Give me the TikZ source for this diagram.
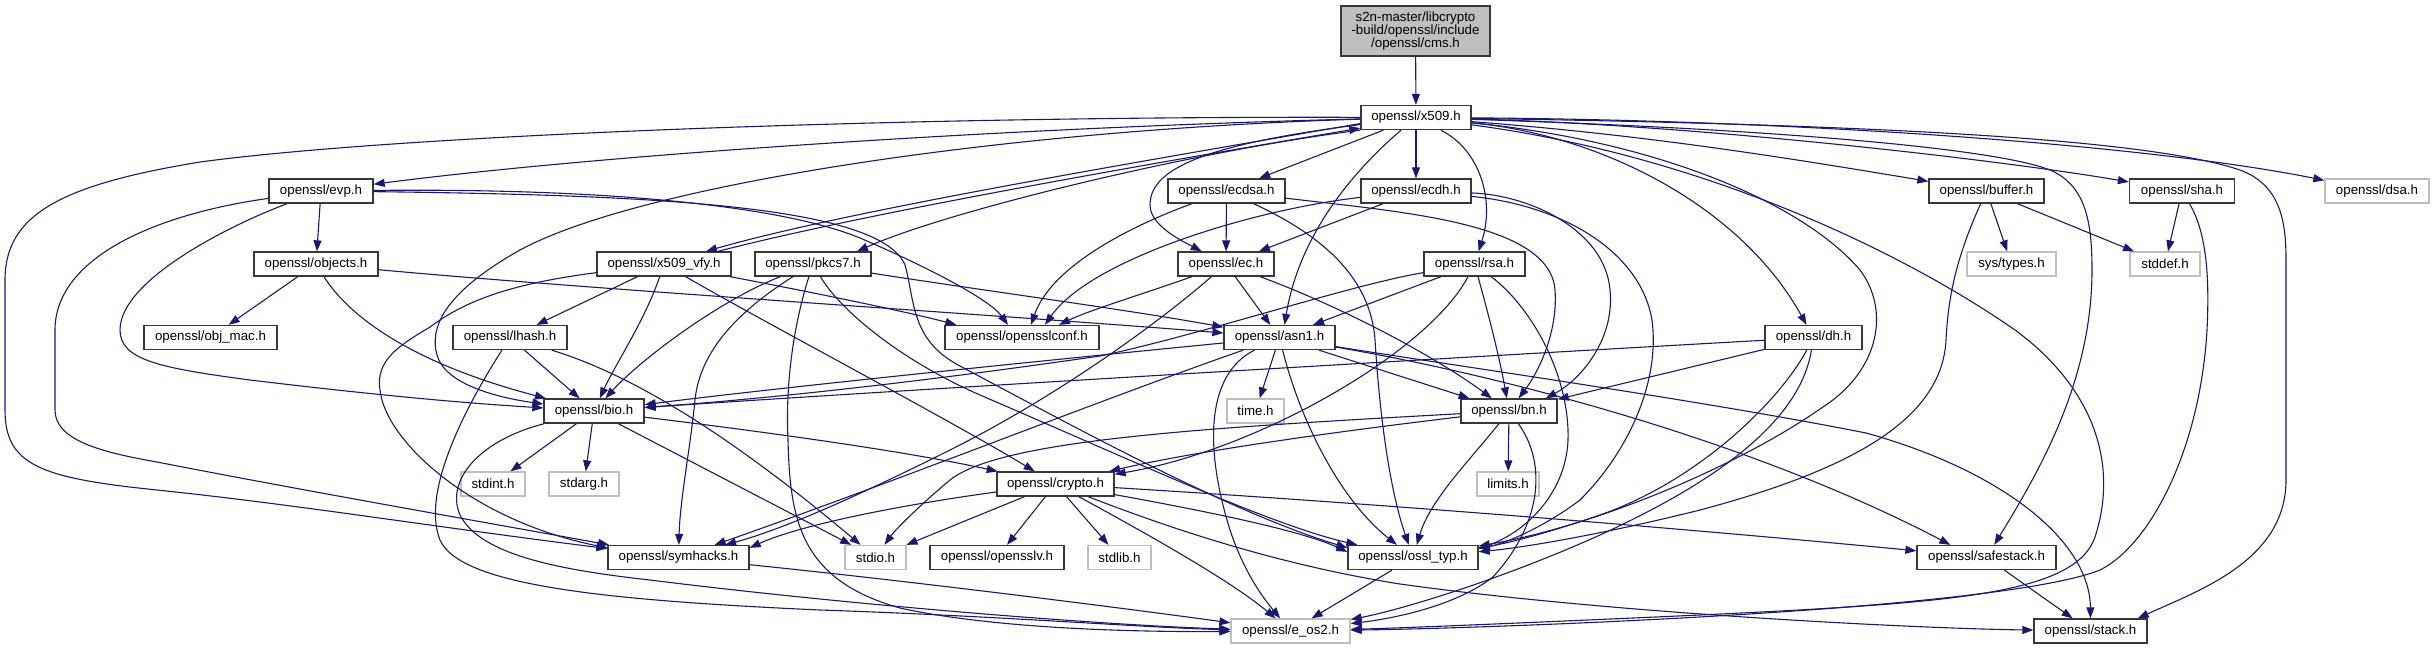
\documentclass[tikz,border=0pt]{standalone}
\usepackage{fontspec}
\setmainfont{Liberation Sans}
\usetikzlibrary{arrows.meta}
\definecolor{edgec}{HTML}{191970}
\definecolor{gbd}{HTML}{BFBFBF}
\begin{document}
\begin{tikzpicture}[x=1pt,y=-1pt,
  nd/.style={draw=black!78, line width=1.3pt, fill=white, inner sep=0pt, minimum height=24pt, font=\fontsize{13.3pt}{13.3pt}\selectfont, text=black},
  gnd/.style={nd, draw=gbd},
  e/.style={draw=edgec, line width=1.1pt, -{Triangle[length=11pt,width=8pt]}}]
\useasboundingbox (0,0) rectangle (2434,649);
% nodes
\node[nd, fill=gbd, minimum width=149pt, minimum height=50pt, align=center] (cms) at (1415.5,31) {s2n-master/libcrypto\\-build/openssl/include\\/openssl/cms.h};
\node[nd, minimum width=110pt] (x509) at (1416,117.5) {openssl/x509.h};
\node[nd, minimum width=104pt] (evp) at (321,191) {openssl/evp.h};
\node[nd, minimum width=117pt] (ecdsa) at (1226.5,191) {openssl/ecdsa.h};
\node[nd, minimum width=110pt] (ecdh) at (1416,191) {openssl/ecdh.h};
\node[nd, minimum width=115pt] (buffer) at (1986.5,191) {openssl/buffer.h};
\node[nd, minimum width=105pt] (sha) at (2182,191) {openssl/sha.h};
\node[gnd, minimum width=104pt] (dsa) at (2377,191) {openssl/dsa.h};
\node[nd, minimum width=124pt] (objects) at (316,264) {openssl/objects.h};
\node[nd, minimum width=134pt] (vfy) at (664,264) {openssl/x509\_vfy.h};
\node[nd, minimum width=116pt] (pkcs7) at (813,264) {openssl/pkcs7.h};
\node[nd, minimum width=96pt] (ec) at (1226,264) {openssl/ec.h};
\node[nd, minimum width=101pt] (rsa) at (1474.5,264) {openssl/rsa.h};
\node[gnd, minimum width=89pt] (systypes) at (2011.5,264) {sys/types.h};
\node[gnd, minimum width=70pt] (stddef) at (2165,264) {stddef.h};
\node[nd, minimum width=133pt] (objmac) at (210.5,337.5) {openssl/obj\_mac.h};
\node[nd, minimum width=114pt] (lhash) at (510,337.5) {openssl/lhash.h};
\node[nd, minimum width=154pt] (conf) at (1022,337.5) {openssl/opensslconf.h};
\node[nd, minimum width=111pt] (asn1) at (1279.5,337.5) {openssl/asn1.h};
\node[nd, minimum width=97pt] (dh) at (1813.5,337.5) {openssl/dh.h};
\node[nd, minimum width=100pt] (bio) at (594,411) {openssl/bio.h};
\node[gnd, minimum width=57pt] (time) at (1255.5,411) {time.h};
\node[nd, minimum width=96pt] (bn) at (1509,411) {openssl/bn.h};
\node[gnd, minimum width=64pt] (stdint) at (493,484) {stdint.h};
\node[gnd, minimum width=70pt] (stdarg) at (584,484) {stdarg.h};
\node[nd, minimum width=117pt] (crypto) at (1055.5,484) {openssl/crypto.h};
\node[gnd, minimum width=62pt] (limits) at (1508,484) {limits.h};
\node[nd, minimum width=141pt] (sym) at (678.5,557.5) {openssl/symhacks.h};
\node[gnd, minimum width=61pt] (stdio) at (875.5,557.5) {stdio.h};
\node[nd, minimum width=134pt] (sslv) at (997,557.5) {openssl/opensslv.h};
\node[gnd, minimum width=63pt] (stdlib) at (1119.5,557.5) {stdlib.h};
\node[nd, minimum width=130pt] (ossl) at (1413,557.5) {openssl/ossl\_typ.h};
\node[nd, minimum width=139pt] (safe) at (1986.5,557.5) {openssl/safestack.h};
\node[gnd, minimum width=119pt] (eos2) at (1290.5,631) {openssl/e\_os2.h};
\node[nd, minimum width=113pt] (stack) at (2090.5,631) {openssl/stack.h};
% edges
\draw[e] (cms) -- (x509);
% x509
\draw[e] (x509) .. controls (1000,128) and (600,155) .. (evp);
\draw[e] (x509) .. controls (900,116) and (400,135) .. (200,162) .. controls (60,185) and (5,215) .. (5,280) -- (5,410) .. controls (5,465) and (40,478) .. (157,490) .. controls (300,505) and (420,525) .. (sym);
\draw[e] (x509) .. controls (1000,130) and (640,185) .. (520,250) .. controls (440,295) and (430,330) .. (437,355) .. controls (445,385) and (500,398) .. (bio);
\draw[e] ([yshift=-6pt]x509.west) .. controls (1150,160) and (850,210) .. ([xshift=42pt]vfy.north);
\draw[e] ([xshift=54pt]vfy.north) .. controls (870,212) and (1160,162) .. ([yshift=2pt]x509.south west);
\draw[e] (x509.south west) .. controls (1200,150) and (950,210) .. ([xshift=44pt]pkcs7.north);
\draw[e] (x509) -- (ecdsa);
\draw[e] (x509) -- (ecdh);
\draw[e] (x509) .. controls (1200,145) and (1150,170) .. (1150,205) .. controls (1150,225) and (1180,240) .. (ec);
\draw[e] (x509) .. controls (1360,165) and (1300,230) .. ([xshift=5pt]asn1.north);
\draw[e] (x509) .. controls (1480,150) and (1495,200) .. (rsa);
\draw[e] (x509) .. controls (1600,135) and (1740,205) .. (dh);
\draw[e] (x509) .. controls (1650,135) and (1800,160) .. (buffer);
\draw[e] (x509) .. controls (1700,125) and (2000,160) .. (sha);
\draw[e] (x509) .. controls (1800,120) and (2150,145) .. (dsa);
\draw[e] (x509) .. controls (1900,125) and (2150,140) .. (2240,170) .. controls (2280,185) and (2286,220) .. (2286,260) -- (2286,480) .. controls (2286,560) and (2200,590) .. ([xshift=-10pt]stack.north east);
\draw[e] (x509) .. controls (1800,130) and (2000,150) .. (2050,170) .. controls (2085,185) and (2092,220) .. (2092,270) .. controls (2092,380) and (2040,470) .. (safe);
\draw[e] (x509) .. controls (1650,140) and (1800,200) .. (1860,270) .. controls (1890,310) and (1880,370) .. (1823,407) .. controls (1740,465) and (1600,525) .. (ossl);
\draw[e] (x509) .. controls (1700,155) and (1900,250) .. (2015,330) .. controls (2090,385) and (2120,460) .. (2095,537) .. controls (2075,595) and (1950,603) .. (1700,615) .. controls (1500,624) and (1400,628) .. (eos2);
% evp
\draw[e] (evp) -- (objects);
\draw[e] (evp) .. controls (150,215) and (55,260) .. (55,330) -- (55,410) .. controls (55,440) and (100,452) .. (157,462) .. controls (300,490) and (500,525) .. (sym);
\draw[e] (evp) .. controls (230,225) and (120,280) .. (120,330) .. controls (120,360) and (160,368) .. (250,380) .. controls (400,398) and (480,404) .. (bio);
\draw[e] (evp) .. controls (600,188) and (780,205) .. (860,238) .. controls (930,268) and (990,300) .. ([xshift=-14pt]conf.north);
\draw[e] (evp) .. controls (650,195) and (880,205) .. (905,265) .. controls (915,300) and (910,340) .. (960,366) .. controls (1080,430) and (1230,512) .. ([yshift=-3pt]ossl.north west);
% objects
\draw[e] (objects) -- (objmac);
\draw[e] (objects) .. controls (345,310) and (400,360) .. (bio);
\draw[e] (objects) .. controls (600,290) and (1000,315) .. (asn1);
% x509_vfy
\draw[e] (vfy) .. controls (500,285) and (460,305) .. (430,327) .. controls (400,345) and (375,360) .. (380,390) .. controls (385,440) and (470,520) .. ([yshift=-3pt]sym.north west);
\draw[e] (vfy) -- (lhash);
\draw[e] (vfy) .. controls (645,320) and (615,365) .. (bio);
\draw[e] (vfy) .. controls (760,320) and (950,420) .. (crypto);
\draw[e] (vfy) .. controls (800,290) and (900,310) .. ([xshift=12pt]conf.north west);
% pkcs7
\draw[e] (pkcs7) .. controls (980,290) and (1130,310) .. (asn1);
\draw[e] (pkcs7) .. controls (720,300) and (640,360) .. (bio);
\draw[e] (pkcs7) .. controls (740,310) and (700,350) .. (695,400) .. controls (690,450) and (680,500) .. (sym);
\draw[e] (pkcs7) .. controls (795,320) and (785,380) .. (788,440) .. controls (790,520) and (800,580) .. (900,608) .. controls (1000,630) and (1150,632) .. (eos2);
\draw[e] (pkcs7) .. controls (840,310) and (900,360) .. (980,395) .. controls (1120,455) and (1270,525) .. (ossl);
% lhash
\draw[e] (lhash) -- (bio);
\draw[e] (lhash) .. controls (650,380) and (760,460) .. (stdio);
\draw[e] (lhash) .. controls (470,400) and (420,490) .. (440,540) .. controls (460,585) and (600,600) .. (820,610) .. controls (1000,616) and (1150,628) .. (eos2);
% bio
\draw[e] (bio) -- (stdint);
\draw[e] (bio) -- (stdarg);
\draw[e] (bio) -- (stdio);
\draw[e] (bio) .. controls (750,430) and (900,450) .. (crypto);
\draw[e] (bio) .. controls (480,440) and (445,480) .. (460,515) .. controls (480,555) and (560,570) .. (650,580) .. controls (850,605) and (1100,625) .. (eos2);
% ecdsa
\draw[e] (ecdsa) -- (ec);
\draw[e] (ecdsa) .. controls (1120,230) and (1050,270) .. ([xshift=9pt]conf.north);
\draw[e] (ecdsa) .. controls (1400,212) and (1550,222) .. (1555,290) .. controls (1558,330) and (1540,370) .. (bn);
\draw[e] (ecdsa) .. controls (1310,230) and (1370,270) .. (1375,340) .. controls (1380,420) and (1390,490) .. (ossl);
% ecdh
\draw[e] (ecdh) -- (ec);
\draw[e] (ecdh) .. controls (1250,210) and (1090,260) .. ([xshift=23pt]conf.north);
\draw[e] (ecdh) .. controls (1530,195) and (1605,230) .. (1610,290) .. controls (1615,340) and (1580,380) .. ([xshift=-12pt]bn.north east);
\draw[e] (ecdh) .. controls (1560,205) and (1640,250) .. (1652,320) .. controls (1660,380) and (1630,450) .. (1580,500) .. controls (1540,530) and (1500,545) .. (ossl);
% ec
\draw[e] (ec) -- (asn1);
\draw[e] (ec) .. controls (1350,310) and (1440,360) .. (bn);
\draw[e] (ec) .. controls (1150,330) and (1050,400) .. (950,450) .. controls (850,500) and (780,530) .. (sym);
\draw[e] ([xshift=-34pt]ec.south) .. controls (1140,295) and (1090,310) .. ([xshift=37pt]conf.north);
% rsa
\draw[e] (rsa) -- (asn1);
\draw[e] (rsa) .. controls (1350,285) and (1200,335) .. (1100,356) .. controls (900,385) and (750,400) .. (bio);
\draw[e] (rsa) .. controls (1430,350) and (1260,450) .. (crypto);
\draw[e] (rsa) .. controls (1490,320) and (1500,360) .. (bn);
\draw[e] (rsa) .. controls (1535,310) and (1570,380) .. (1568,440) .. controls (1566,490) and (1530,530) .. ([yshift=-4pt]ossl.north east);
% asn1
\draw[e] (asn1) -- (time);
\draw[e] (asn1) -- (bn);
\draw[e] (asn1) .. controls (1100,355) and (800,385) .. (bio);
\draw[e] (asn1) .. controls (1205,375) and (1205,450) .. (1230,530) .. controls (1245,575) and (1265,600) .. (eos2);
\draw[e] (asn1) .. controls (1300,420) and (1340,500) .. (ossl);
\draw[e] (asn1) .. controls (1100,400) and (900,480) .. (sym);
\draw[e] (asn1) .. controls (1450,365) and (1700,400) .. (1866,433) .. controls (2000,470) and (2090,540) .. (stack);
\draw[e] (asn1) .. controls (1500,375) and (1750,440) .. ([xshift=34pt]safe.north west);
% dh
\draw[e] (dh) .. controls (1500,355) and (900,390) .. (bio);
\draw[e] (dh) -- (bn);
\draw[e] (dh) .. controls (1780,400) and (1700,480) .. (1600,515) .. controls (1550,532) and (1510,543) .. (ossl);
\draw[e] (dh) .. controls (1800,420) and (1720,480) .. (1600,535) .. controls (1500,580) and (1400,610) .. (eos2);
% buffer
\draw[e] (buffer) -- (systypes);
\draw[e] (buffer) -- (stddef);
\draw[e] (buffer) .. controls (1955,260) and (1948,300) .. (1946,340) .. controls (1942,420) and (1850,470) .. (1700,510) .. controls (1600,535) and (1520,548) .. (ossl);
% sha
\draw[e] (sha) -- (stddef);
\draw[e] (sha) .. controls (2205,230) and (2210,270) .. (2207,330) .. controls (2200,450) and (2150,545) .. (2100,570) .. controls (2000,610) and (1500,628) .. (eos2);
% bn
\draw[e] (bn) -- (limits);
\draw[e] (bn) .. controls (1200,428) and (1000,440) .. (950,480) .. controls (920,505) and (895,530) .. (stdio);
\draw[e] (bn) .. controls (1350,430) and (1200,450) .. (crypto);
\draw[e] (bn) .. controls (1470,460) and (1430,500) .. (ossl);
\draw[e] (bn) .. controls (1545,460) and (1545,520) .. (1493,577) .. controls (1450,610) and (1380,620) .. (eos2);
% crypto
\draw[e] (crypto) -- (stdio);
\draw[e] (crypto) -- (sslv);
\draw[e] (crypto) -- (stdlib);
\draw[e] (crypto) .. controls (1140,530) and (1230,580) .. (eos2);
\draw[e] (crypto) .. controls (900,505) and (800,525) .. ([yshift=-3pt]sym.north east);
\draw[e] (crypto) .. controls (1200,510) and (1300,530) .. ([yshift=-7pt]ossl.north west);
\draw[e] (crypto) .. controls (1400,505) and (1700,530) .. (safe);
\draw[e] (crypto) .. controls (1200,540) and (1300,568) .. (1400,584) .. controls (1600,612) and (1900,628) .. (stack);
% others
\draw[e] (sym) .. controls (900,580) and (1100,605) .. (eos2);
\draw[e] (ossl) -- (eos2);
\draw[e] (safe) -- (stack);
\end{tikzpicture}
\end{document}
